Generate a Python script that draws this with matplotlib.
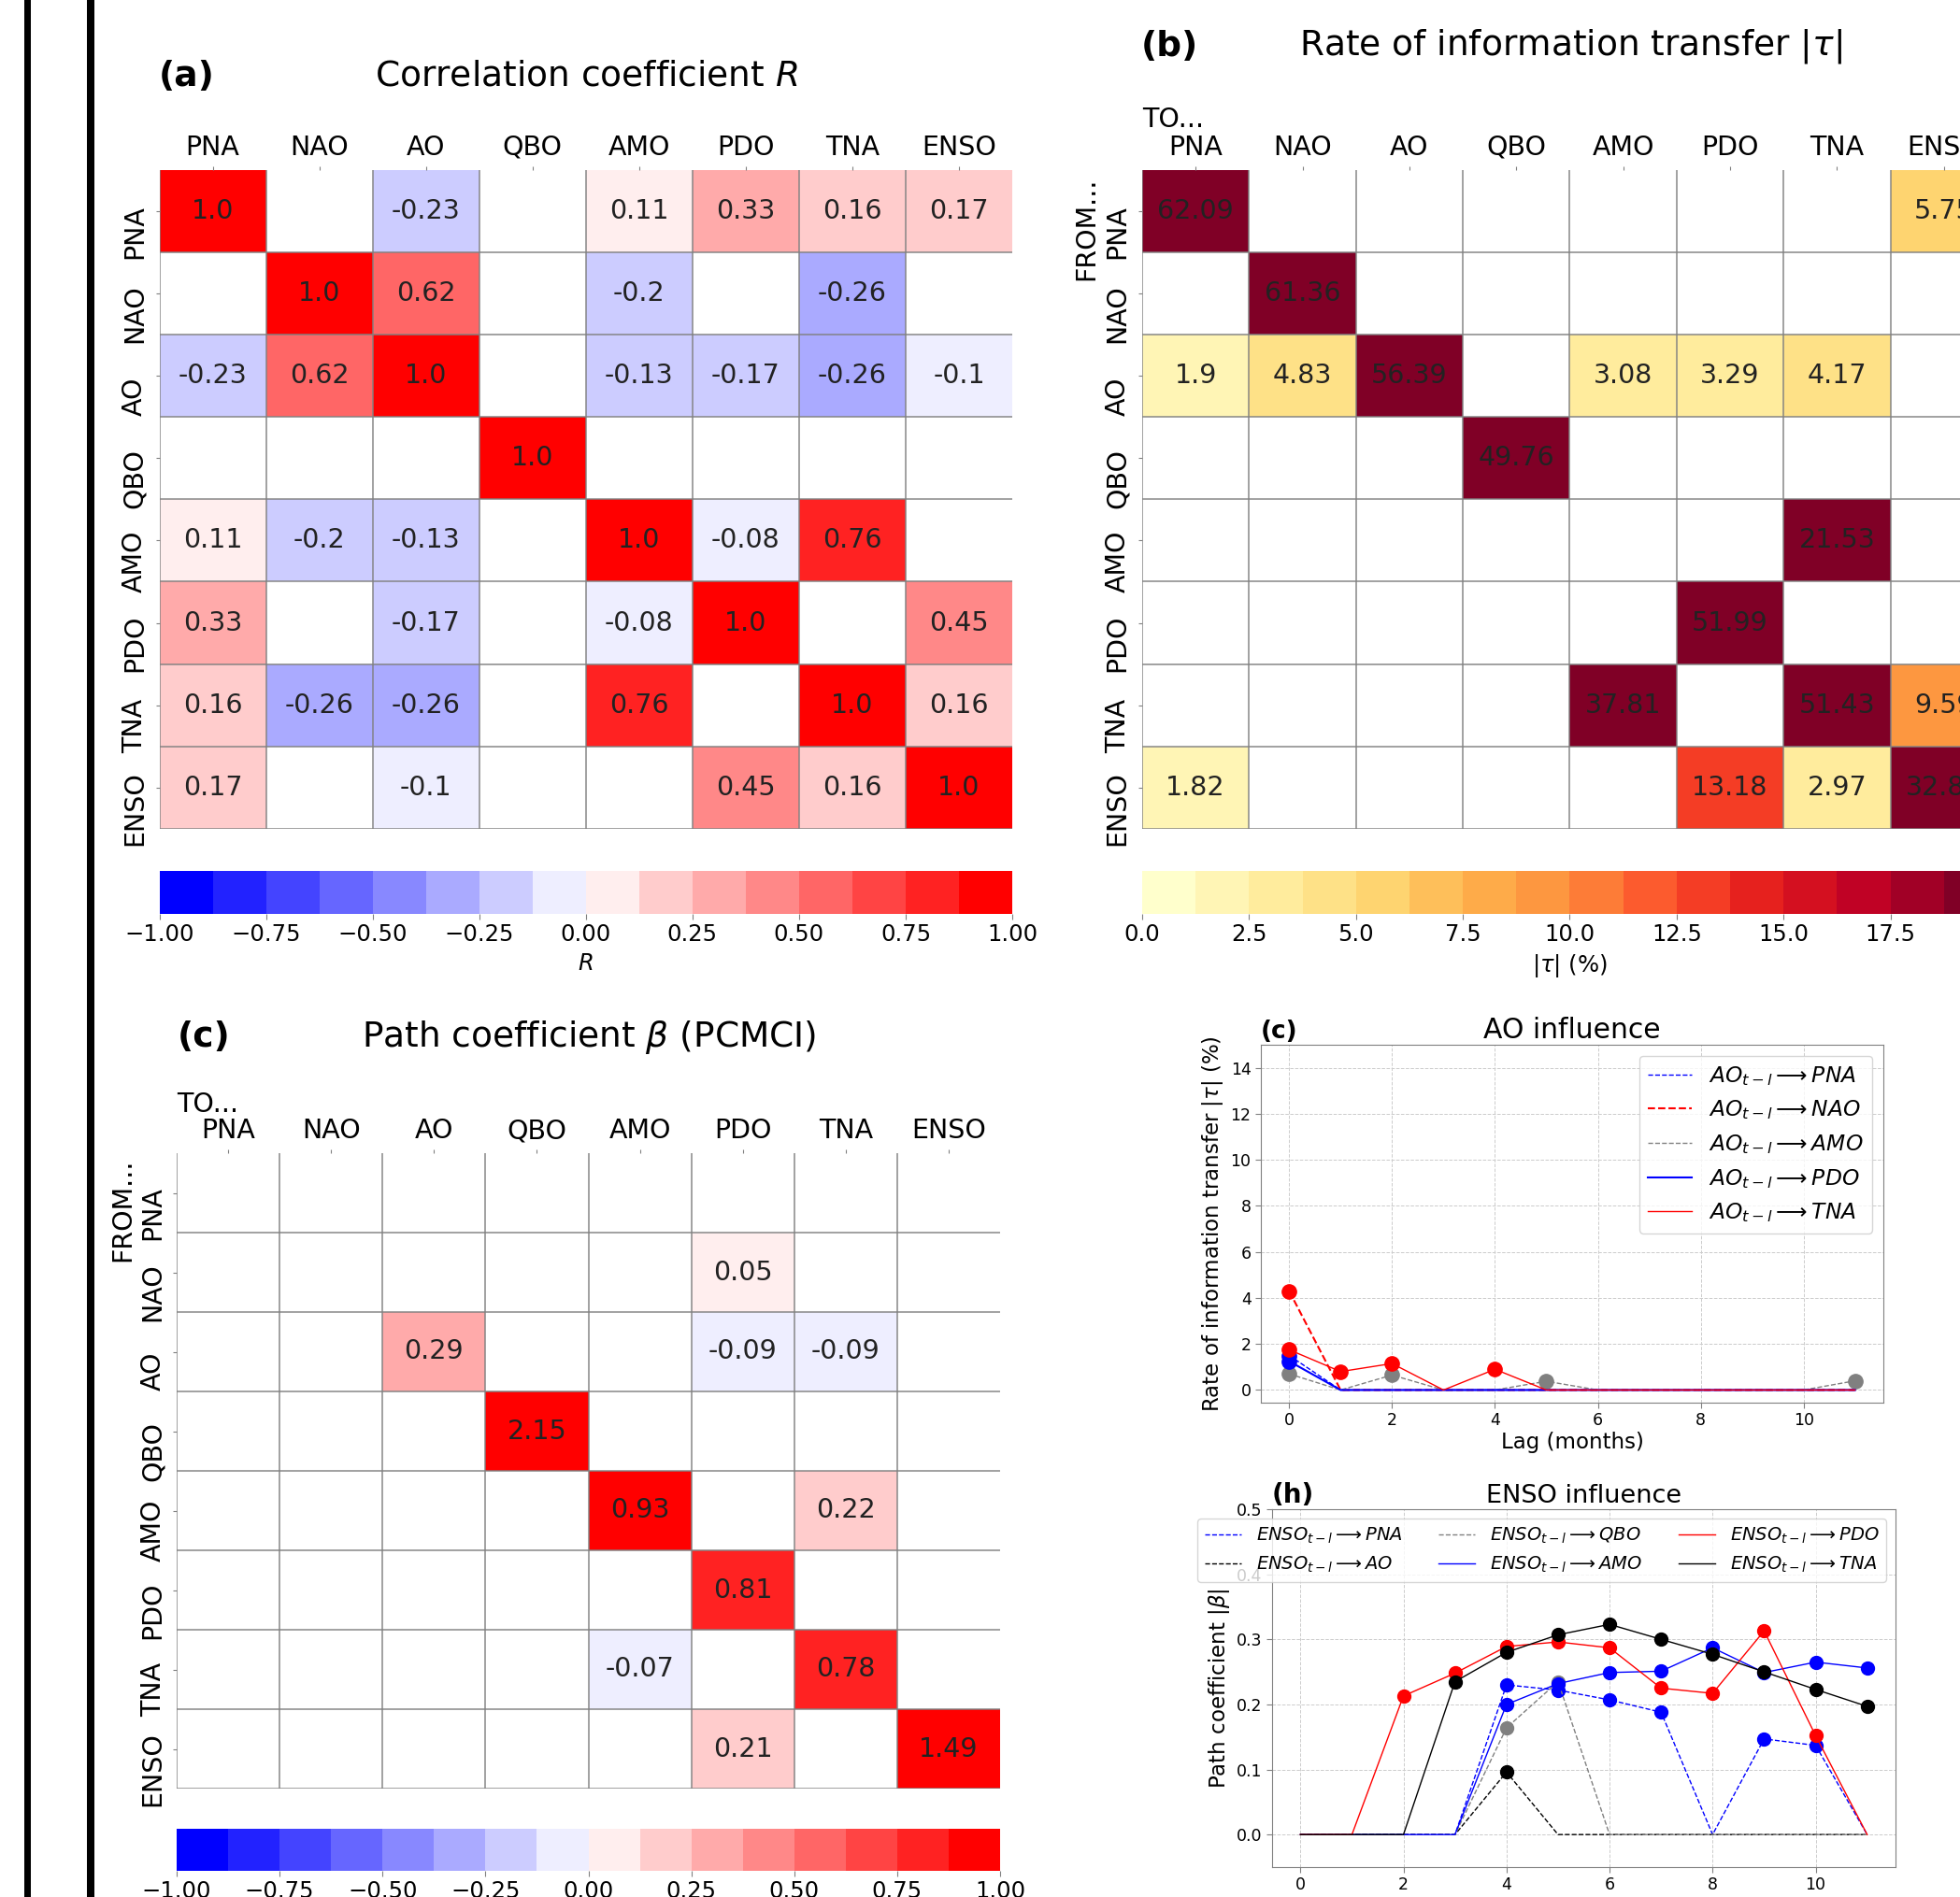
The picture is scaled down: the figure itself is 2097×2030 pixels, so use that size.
import numpy as np
import matplotlib
matplotlib.use("Agg")
import matplotlib.pyplot as plt
from matplotlib.colors import Normalize
from matplotlib.cm import ScalarMappable
from matplotlib.patches import Rectangle

nan = np.nan
names = ['PNA', 'NAO', 'AO', 'QBO', 'AMO', 'PDO', 'TNA', 'ENSO']

# (a) correlation coefficient R (blank = not significant)
corr_R = [
    [1.0, nan, -0.23, nan, 0.11, 0.33, 0.16, 0.17],
    [nan, 1.0, 0.62, nan, -0.2, nan, -0.26, nan],
    [-0.23, 0.62, 1.0, nan, -0.13, -0.17, -0.26, -0.1],
    [nan, nan, nan, 1.0, nan, nan, nan, nan],
    [0.11, -0.2, -0.13, nan, 1.0, -0.08, 0.76, nan],
    [0.33, nan, -0.17, nan, -0.08, 1.0, nan, 0.45],
    [0.16, -0.26, -0.26, nan, 0.76, nan, 1.0, 0.16],
    [0.17, nan, -0.1, nan, nan, 0.45, 0.16, 1.0],
]

# (b) rate of information transfer |tau| (%), rows FROM, cols TO
tau = [
    [62.09, nan, nan, nan, nan, nan, nan, 5.75],
    [nan, 61.36, nan, nan, nan, nan, nan, nan],
    [1.9, 4.83, 56.39, nan, 3.08, 3.29, 4.17, nan],
    [nan, nan, nan, 49.76, nan, nan, nan, nan],
    [nan, nan, nan, nan, nan, nan, 21.53, nan],
    [nan, nan, nan, nan, nan, 51.99, nan, nan],
    [nan, nan, nan, nan, 37.81, nan, 51.43, 9.59],
    [1.82, nan, nan, nan, nan, 13.18, 2.97, 32.81],
]

# (c) path coefficient beta (PCMCI)
beta = [
    [nan, nan, nan, nan, nan, nan, nan, nan],
    [nan, nan, nan, nan, nan, 0.05, nan, nan],
    [nan, nan, 0.29, nan, nan, -0.09, -0.09, nan],
    [nan, nan, nan, 2.15, nan, nan, nan, nan],
    [nan, nan, nan, nan, 0.93, nan, 0.22, nan],
    [nan, nan, nan, nan, nan, 0.81, nan, nan],
    [nan, nan, nan, nan, -0.07, nan, 0.78, nan],
    [nan, nan, nan, nan, nan, 0.21, nan, 1.49],
]

# lag curves
lags = np.arange(12)
ao_pna = [1.5, 0, 0, 0, 0, 0, 0, 0, 0, 0, 0, 0]
ao_nao = [4.3, 0, 0, 0, 0, 0, 0, 0, 0, 0, 0, 0]
ao_amo = [0.7, 0, 0.65, 0, 0, 0.38, 0, 0, 0, 0, 0, 0.4]
ao_pdo = [1.25, 0, 0, 0, 0, 0, 0, 0, 0, 0, 0, 0]
ao_tna = [1.75, 0.8, 1.15, 0, 0.9, 0, 0, 0, 0, 0, 0, 0]

enso_pna = [0, 0, 0, 0, 0.23, 0.222, 0.207, 0.188, 0, 0.147, 0.137, 0]
enso_ao = [0, 0, 0, 0, 0.096, 0, 0, 0, 0, 0, 0, 0]
enso_qbo = [0, 0, 0, 0, 0.164, 0.235, 0, 0, 0, 0, 0, 0]
enso_amo = [0, 0, 0, 0, 0.2, 0.232, 0.249, 0.251, 0.287, 0.249, 0.265, 0.256]
enso_pdo = [0, 0, 0.213, 0.248, 0.289, 0.296, 0.287, 0.225, 0.217, 0.313, 0.152, 0]
enso_tna = [0, 0, 0, 0.235, 0.28, 0.307, 0.323, 0.3, 0.277, 0.25, 0.223, 0.197]

W, H = 2097, 2030
fig = plt.figure(figsize=(W / 100, H / 100), dpi=100)


def px_axes(x0, y0, x1, y1):
    return fig.add_axes([x0 / W, 1 - y1 / H, (x1 - x0) / W, (y1 - y0) / H])


def fig_text(x, y, s, **kw):
    fig.text(x / W, 1 - y / H, s, **kw)


# black bars on the left
for x0, x1 in [(26, 33), (93, 101)]:
    fig.add_artist(Rectangle((x0 / W, 0), (x1 - x0) / W, 1, transform=fig.transFigure,
                             color='black', lw=0))

FS = 20.5


def heatmap(ax, data, cmap, norm, from_to=False):
    d = np.ma.masked_invalid(np.array(data, dtype=float))
    ax.pcolormesh(np.arange(9), np.arange(9), d, cmap=cmap, norm=norm)
    ax.set_xlim(0, 8)
    ax.set_ylim(8, 0)
    for i in range(8):
        for j in range(8):
            v = data[i][j]
            if not np.isnan(v):
                ax.text(j + 0.5, i + 0.5, str(v), ha='center', va='center',
                        fontsize=FS, color='#222222')
    ax.vlines(np.arange(0, 8), 0, 8, color='gray', lw=1.3, alpha=0.8)
    ax.hlines(np.arange(1, 9), 0, 8, color='gray', lw=1.3, alpha=0.8)
    ax.set_xticks(np.arange(8) + 0.5)
    ax.set_xticklabels(names, fontsize=FS)
    ax.xaxis.tick_top()
    ax.set_yticks(np.arange(8) + 0.5)
    ax.set_yticklabels([])
    ax.tick_params(length=3, color='gray', pad=4)
    # row labels sit a little below the row centre, as in the original
    for i, nm in enumerate(names):
        ax.text(-0.23, i + 0.75, nm, ha='center', va='center', rotation=90,
                fontsize=FS, clip_on=False)
    for s in ax.spines.values():
        s.set_visible(False)
    if from_to:
        ax.text(0, -0.61, 'TO...', ha='left', va='center', fontsize=FS)
        ax.text(-0.52, 0.72, 'FROM...', ha='center', va='center', fontsize=FS,
                rotation=90)


def colorbar(cax, cmap, norm, ticks, label):
    cb = fig.colorbar(ScalarMappable(norm=norm, cmap=cmap), cax=cax,
                      orientation='horizontal', ticks=ticks)
    cb.outline.set_visible(False)
    cax.tick_params(labelsize=17.5, length=4, color='gray')
    if label:
        cb.set_label(label, fontsize=17.5, labelpad=5)


bwr16 = plt.get_cmap('bwr', 16)
nR = Normalize(-1, 1)
ylorrd16 = plt.get_cmap('YlOrRd', 16)
nT = Normalize(0, 20)

# (a)
ax_a = px_axes(170.5, 181.5, 1083, 887)
heatmap(ax_a, corr_R, bwr16, nR)
colorbar(px_axes(170.5, 932, 1083, 978), bwr16, nR, np.arange(-1, 1.01, 0.25), '$R$')
fig_text(170, 82, '(a)', fontsize=27, fontweight='bold', va='center')
fig_text(627, 82, 'Correlation coefficient $R$', fontsize=27, ha='center', va='center')

# (b)
ax_b = px_axes(1222, 181.5, 2137, 887)
heatmap(ax_b, tau, ylorrd16, nT, from_to=True)
colorbar(px_axes(1222, 932, 2137, 978), ylorrd16, nT, np.arange(0, 20.01, 2.5), r'$|\tau|$ (%)')
fig_text(1221, 50, '(b)', fontsize=27, fontweight='bold', va='center')
fig_text(1680, 50, r'Rate of information transfer $|\tau|$', fontsize=27, ha='center', va='center')

# (c)
ax_c = px_axes(189, 1234, 1070, 1914)
heatmap(ax_c, beta, bwr16, nR, from_to=True)
colorbar(px_axes(189, 1957, 1070, 2002), bwr16, nR, np.arange(-1, 1.01, 0.25), None)
fig_text(190, 1110, '(c)', fontsize=27, fontweight='bold', va='center')
fig_text(630, 1110, r'Path coefficient $\beta$ (PCMCI)', fontsize=27, ha='center', va='center')


def style_line_axes(ax, tick_fs):
    ax.grid(True, ls='--', lw=0.7, color='#cccccc')
    ax.set_axisbelow(True)
    for s in ax.spines.values():
        s.set_color('gray')
    ax.tick_params(labelsize=tick_fs, color='gray', length=4)
    ax.set_xticks([0, 2, 4, 6, 8, 10])


def draw(ax, y, color, ls, lw, ms, label):
    y = np.array(y, dtype=float)
    ax.plot(lags, y, color=color, ls=ls, lw=lw, label=label)
    ax.plot(lags, np.where(y > 0, y, nan), 'o', color=color, ms=ms)


# AO influence
ax_ao = px_axes(1349, 1118, 2015, 1501)
draw(ax_ao, ao_pna, 'blue', '--', 1.0, 11, r'$AO_{t-l}\longrightarrow PNA$')
draw(ax_ao, ao_nao, 'red', '--', 1.5, 11, r'$AO_{t-l}\longrightarrow NAO$')
draw(ax_ao, ao_amo, 'gray', '--', 1.0, 11, r'$AO_{t-l}\longrightarrow AMO$')
draw(ax_ao, ao_pdo, 'blue', '-', 1.5, 11, r'$AO_{t-l}\longrightarrow PDO$')
draw(ax_ao, ao_tna, 'red', '-', 1.0, 11, r'$AO_{t-l}\longrightarrow TNA$')
ax_ao.set_xlim(-0.55, 11.55)
ax_ao.set_ylim(-0.55, 15)
ax_ao.set_yticks(np.arange(0, 15, 2))
style_line_axes(ax_ao, 12.5)
ax_ao.set_xlabel('Lag (months)', fontsize=16.5, labelpad=2)
ax_ao.set_ylabel(r'Rate of information transfer $|\tau|$ (%)', fontsize=16.5)
ax_ao.set_title('AO influence', fontsize=21.5, pad=5)
ax_ao.set_title('(c)', loc='left', fontsize=19, fontweight='bold', pad=5)
ax_ao.legend(loc='upper right', fontsize=16.8)

# ENSO influence
ax_en = px_axes(1361, 1615, 2028, 1998)
draw(ax_en, enso_pna, 'blue', '--', 1.0, 10, r'$ENSO_{t-l}\longrightarrow PNA$')
draw(ax_en, enso_ao, 'black', '--', 1.0, 10, r'$ENSO_{t-l}\longrightarrow AO$')
draw(ax_en, enso_qbo, 'gray', '--', 1.0, 10, r'$ENSO_{t-l}\longrightarrow QBO$')
draw(ax_en, enso_amo, 'blue', '-', 1.0, 10, r'$ENSO_{t-l}\longrightarrow AMO$')
draw(ax_en, enso_pdo, 'red', '-', 1.0, 10, r'$ENSO_{t-l}\longrightarrow PDO$')
draw(ax_en, enso_tna, 'black', '-', 1.0, 10, r'$ENSO_{t-l}\longrightarrow TNA$')
ax_en.set_xlim(-0.55, 11.55)
ax_en.set_ylim(-0.05, 0.5)
ax_en.set_yticks(np.arange(0, 0.51, 0.1))
style_line_axes(ax_en, 12.5)
ax_en.set_xlabel('Lag (months)', fontsize=16.5)
ax_en.set_ylabel(r'Path coefficient $|\beta|$', fontsize=16.5)
ax_en.set_title('ENSO influence', fontsize=19.5, pad=5)
ax_en.set_title('(h)', loc='left', fontsize=20, fontweight='bold', pad=5)
ax_en.legend(loc='upper right', ncol=3, fontsize=14)

fig.savefig('out.png', dpi=100)
